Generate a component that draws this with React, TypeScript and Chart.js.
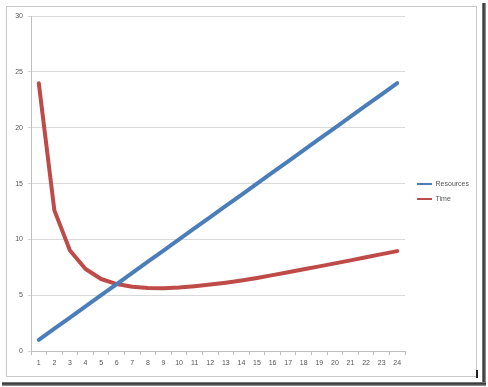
import React, { useEffect, useRef } from "react";
import { Chart, registerables } from "chart.js";

Chart.register(...registerables);

const categories = ["1","2","3","4","5","6","7","8","9","10","11","12","13","14","15","16","17","18","19","20","21","22","23","24"];
const resources = [1,2,3,4,5,6,7,8,9,10,11,12,13,14,15,16,17,18,19,20,21,22,23,24];
const time = [24, 12.6, 9.0, 7.35, 6.45, 6.0, 5.75, 5.65, 5.63, 5.68, 5.8, 5.95, 6.12, 6.32, 6.55, 6.8, 7.05, 7.32, 7.58, 7.85, 8.12, 8.4, 8.68, 8.95];
const seriesNames = ["Resources", "Time"];

export default function App() {
  const ref = useRef<HTMLCanvasElement | null>(null);
  useEffect(() => {
    if (!ref.current) return;
    const chart = new Chart(ref.current, {
      type: "line",
      data: {
        labels: categories,
        datasets: [
          { label: seriesNames[0], data: resources, borderColor: "#4a7ebb", backgroundColor: "#4a7ebb", borderWidth: 4, pointRadius: 0, tension: 0, borderCapStyle: "round", borderJoinStyle: "round" },
          { label: seriesNames[1], data: time, borderColor: "#be4b48", backgroundColor: "#be4b48", borderWidth: 4, pointRadius: 0, tension: 0, borderCapStyle: "round", borderJoinStyle: "round" },
        ],
      },
      options: {
        animation: false,
        responsive: false,
        maintainAspectRatio: false,
        layout: { padding: { top: 8, left: 0, right: 0, bottom: 0 } },
        font: { family: "'Liberation Sans', Arial, sans-serif", size: 7 },
        plugins: {
          tooltip: { enabled: false },
          legend: {
            position: "right",
            align: "center",
            labels: {
              boxWidth: 15,
              boxHeight: 2,
              padding: 8,
              color: "#555",
              font: { family: "'Liberation Sans', Arial, sans-serif", size: 7 },
              generateLabels: (c: any) =>
                Chart.defaults.plugins.legend.labels.generateLabels(c).map((l: any) => ({ ...l, lineWidth: 0, fillStyle: l.strokeStyle })),
            },
          },
        },
        scales: {
          x: {
            type: "category",
            offset: true,
            grid: { drawOnChartArea: false, tickLength: 4, color: "#bfbfbf", offset: true },
            border: { color: "#bfbfbf" },
            ticks: { padding: 4, maxRotation: 0, autoSkip: false, color: "#555", font: { family: "'Liberation Sans', Arial, sans-serif", size: 7 } },
            afterFit: (s: any) => { s.height = 17; },
          },
          y: {
            type: "linear",
            min: 0,
            max: 30,
            grid: { color: "#d9d9d9", tickLength: 3 },
            border: { color: "#bfbfbf" },
            ticks: { stepSize: 5, padding: 5, color: "#555", font: { family: "'Liberation Sans', Arial, sans-serif", size: 7 } },
            afterFit: (s: any) => { s.width = 24; },
          },
          y2: {
            type: "linear",
            position: "right",
            display: true,
            grid: { display: false, drawTicks: false },
            border: { display: false },
            ticks: { display: false },
            afterFit: (s: any) => { s.width = 4; },
          },
        },
      },
    });
    return () => chart.destroy();
  }, []);

  return (
    <div style={{ position: "absolute", left: 0, top: 0, width: 488, height: 387, background: "#fff", overflow: "hidden" }}>
      <div style={{ position: "absolute", left: 482, top: 3, width: 4, height: 382, background: "linear-gradient(to right, #9a9a9a, #3a3a3a, #555, #aaa)" }} />
      <div style={{ position: "absolute", left: 2, top: 382, width: 484, height: 4, background: "linear-gradient(to bottom, #9a9a9a, #3a3a3a, #555, #aaa)" }} />
      <div style={{ position: "absolute", left: 6, top: 6, width: 469, height: 369, border: "1px solid #c8c8c8", background: "#fff" }} />
      <div style={{ position: "absolute", left: 476, top: 370, width: 2, height: 8, background: "#222" }} />
      <canvas ref={ref} width={472} height={361} style={{ position: "absolute", left: 7, top: 7, width: 472, height: 361 }} />
    </div>
  );
}
